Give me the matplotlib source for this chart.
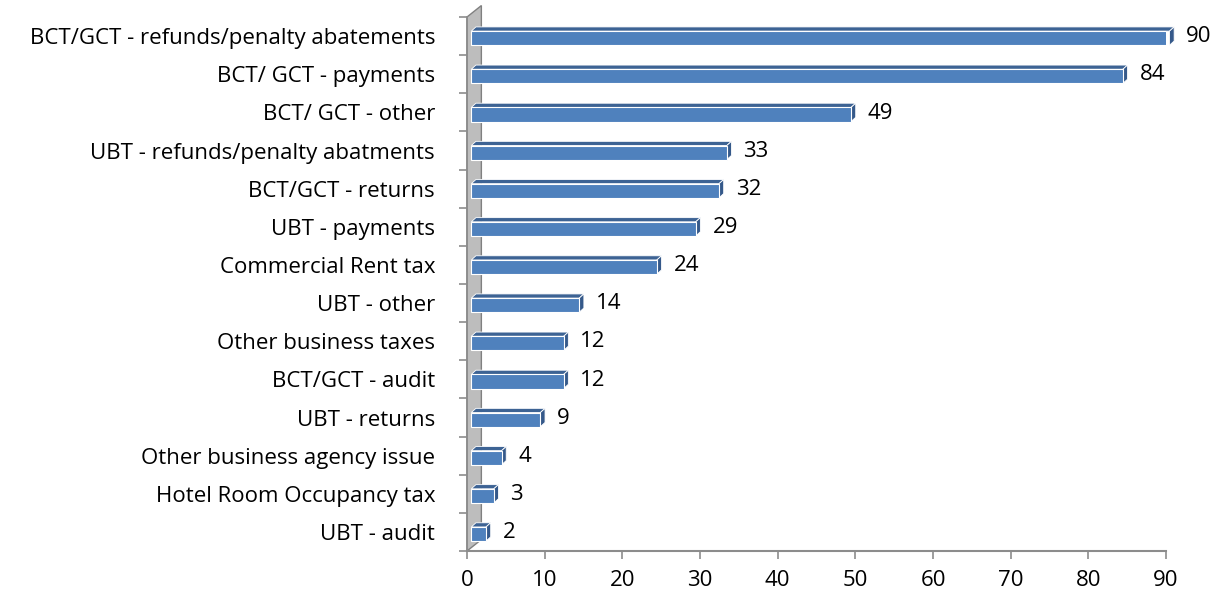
import matplotlib.pyplot as plt
from matplotlib.patches import Polygon

# Dados (de baixo para cima)
categorias = ['UBT - audit', 'Hotel Room Occupancy tax', 'Other business agency issue',
              'UBT - returns', 'BCT/GCT - audit', 'Other business taxes', 'UBT - other',
              'Commercial Rent tax', 'UBT - payments', 'BCT/GCT - returns',
              'UBT - refunds/penalty abatments', 'BCT/ GCT - other', 'BCT/ GCT - payments',
              'BCT/GCT - refunds/penalty abatements']
valores = [2, 3, 4, 9, 12, 12, 14, 24, 29, 32, 33, 49, 84, 90]
ticks_x = [0, 10, 20, 30, 40, 50, 60, 70, 80, 90]

plt.rcParams['font.family'] = ['Open Sans', 'DejaVu Sans']
fs = 16

fig = plt.figure(figsize=(12.3, 5.96), dpi=100)
ax = fig.add_axes([467 / 1230, 1 - 551 / 596, (1166 - 467) / 1230, (551 - 17) / 596])
ax.set_xlim(0, 90)
ax.set_ylim(-0.5, len(categorias) - 0.5)

dx = 0.6    # profundidade das barras em x (unidades de dados)
dy = 0.11   # profundidade das barras em y
h = 0.37    # altura da face frontal
px, py = 1.85, 0.3  # profundidade da parede

# parede cinza
parede = Polygon([(0, -0.5), (0, 13.5), (px, 13.5 + py), (px, -0.5 + py)],
                 closed=True, facecolor='#bdbdbd', edgecolor='#808080', lw=1.0,
                 clip_on=False, zorder=1)
ax.add_patch(parede)

for i, v in enumerate(valores):
    x0, x1 = 0.55, v + 0.45
    y0, y1 = i - h / 2 - dy / 2, i + h / 2 - dy / 2
    topo = Polygon([(x0, y1), (x1, y1), (x1 + dx, y1 + dy), (x0 + dx, y1 + dy)],
                   closed=True, facecolor='#3d6394', edgecolor='white', lw=0.6, zorder=3,
                   clip_on=False)
    lado = Polygon([(x1, y0), (x1 + dx, y0 + dy), (x1 + dx, y1 + dy), (x1, y1)],
                   closed=True, facecolor='#35598a', edgecolor='white', lw=0.6, zorder=3,
                   clip_on=False)
    ax.add_patch(topo)
    ax.add_patch(lado)
    ax.barh(i - dy / 2, x1 - x0, left=x0, height=h, color='#4f81bd', edgecolor='white',
            lw=0.8, zorder=4)
    ax.text(v + 2.6, i - 0.02, str(v), va='center', ha='left', fontsize=fs, zorder=5)

for s in ['top', 'right']:
    ax.spines[s].set_visible(False)
ax.spines['left'].set_color('#8c8c8c')
ax.spines['bottom'].set_color('#8c8c8c')
ax.spines['left'].set_linewidth(1.2)
ax.spines['bottom'].set_linewidth(1.5)
ax.spines['left'].set_zorder(2)

ax.set_xticks(ticks_x)
ax.set_xticklabels([str(t) for t in ticks_x])
ax.set_yticks([i + 0.5 for i in range(-1, len(categorias))], minor=False)
ax.set_yticklabels([])
ax.set_yticks(range(len(categorias)), minor=True)
ax.set_yticklabels(categorias, minor=True)
ax.tick_params(axis='y', which='minor', length=0, pad=23, labelsize=fs)
ax.tick_params(axis='y', which='major', length=6, color='#8c8c8c', width=1.2)
ax.tick_params(axis='x', length=6, color='#8c8c8c', width=1.2, pad=8, labelsize=fs)

plt.savefig('out.png', dpi=100)
